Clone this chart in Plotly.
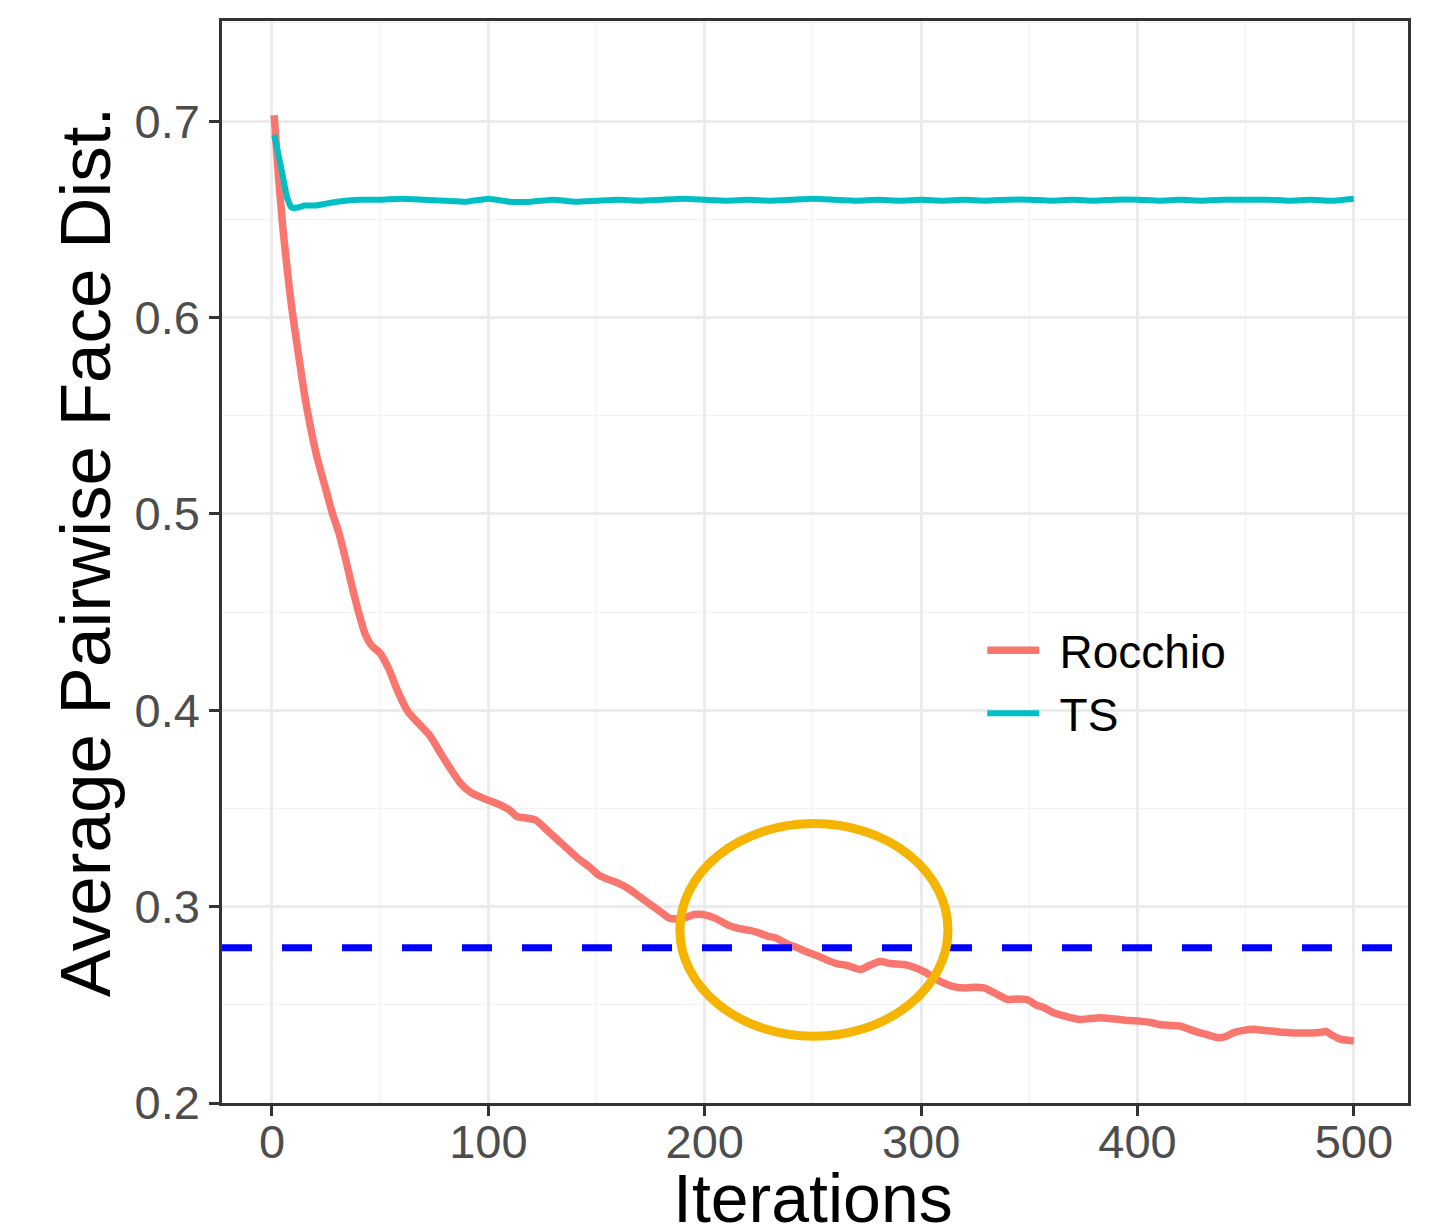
import plotly.graph_objects as go

# ---- data ----
rocchio_x = [1, 3, 5, 7, 9, 12, 15, 18, 21, 25, 28, 31, 34, 37, 40, 43, 46, 50, 54, 58,
             63, 68, 73, 78, 82, 87, 92, 98, 105, 110, 113, 118, 122, 128, 132, 136, 141,
             147, 151, 155, 160, 165, 170, 175, 180, 184, 190, 195, 199, 205, 210, 215,
             220, 224, 229, 233, 238, 243, 247, 252, 256, 261, 266, 272, 276, 281, 286,
             292, 297, 302, 307, 312, 316, 321, 325, 329, 334, 340, 344, 349, 353, 357,
             361, 364, 369, 373, 378, 383, 387, 392, 396, 401, 406, 410, 415, 420, 424,
             429, 433, 438, 441, 444, 449, 454, 458, 463, 467, 472, 477, 481, 485, 487,
             490, 494, 497, 500]
rocchio_y = [0.703, 0.672, 0.646, 0.625, 0.606, 0.583, 0.561, 0.543, 0.528, 0.512, 0.500,
             0.490, 0.477, 0.463, 0.450, 0.439, 0.433, 0.429, 0.421, 0.410, 0.399, 0.393,
             0.387, 0.378, 0.371, 0.363, 0.358, 0.355, 0.352, 0.349, 0.346, 0.345, 0.344,
             0.338, 0.334, 0.330, 0.325, 0.320, 0.316, 0.314, 0.312, 0.309, 0.305, 0.301,
             0.297, 0.294, 0.294, 0.296, 0.296, 0.294, 0.291, 0.289, 0.288, 0.287, 0.285,
             0.284, 0.281, 0.279, 0.277, 0.275, 0.273, 0.271, 0.270, 0.268, 0.270, 0.272,
             0.271, 0.2705, 0.269, 0.2665, 0.263, 0.2603, 0.259, 0.2586, 0.259, 0.2586,
             0.256, 0.2527, 0.253, 0.2527, 0.250, 0.2485, 0.246, 0.245, 0.2435, 0.2425,
             0.243, 0.2434, 0.243, 0.2425, 0.242, 0.2417, 0.241, 0.240, 0.2395, 0.2391,
             0.2375, 0.2357, 0.2345, 0.2332, 0.234, 0.2357, 0.237, 0.2375, 0.237, 0.2366,
             0.236, 0.2357, 0.2357, 0.2357, 0.236, 0.2366, 0.2345, 0.2324, 0.232, 0.2316]

ts_x = [1, 3, 5, 7, 9, 12, 15, 20, 25, 30, 40, 50, 60, 70, 80, 90, 100, 110, 120, 130,
        140, 150, 160, 170, 180, 190, 200, 210, 220, 230, 240, 250, 260, 270, 280, 290,
        300, 310, 320, 330, 340, 350, 360, 370, 380, 390, 400, 410, 420, 430, 440, 450,
        460, 470, 480, 490, 500]
ts_y = [0.693, 0.683, 0.672, 0.661, 0.656, 0.656, 0.657, 0.657, 0.658, 0.659, 0.660,
        0.660, 0.6605, 0.660, 0.6595, 0.659, 0.6605, 0.659, 0.659, 0.660, 0.659, 0.6595,
        0.660, 0.6595, 0.660, 0.6605, 0.660, 0.6595, 0.660, 0.6595, 0.660, 0.6605, 0.660,
        0.6595, 0.660, 0.6595, 0.660, 0.6595, 0.660, 0.6595, 0.660, 0.660, 0.6595, 0.660,
        0.6595, 0.660, 0.660, 0.6595, 0.660, 0.6595, 0.660, 0.660, 0.660, 0.6595, 0.660,
        0.6595, 0.6605]

baseline_y = 0.279
highlight_x = [188.5, 312.4]
highlight_y = [0.234, 0.3423]

x_ticks = [0, 100, 200, 300, 400, 500]
y_ticks = [0.2, 0.3, 0.4, 0.5, 0.6, 0.7]

FONT = "Liberation Sans, Arial, Helvetica, sans-serif"
RED = "#F8766D"
TEAL = "#00BFC4"
GAP = "\u2004"  # small spacing between legend key and label

fig = go.Figure()
fig.add_trace(go.Scatter(x=rocchio_x, y=rocchio_y, mode="lines", name=GAP + "Rocchio",
                         line=dict(color=RED, width=7.5, shape="spline", smoothing=0.6)))
fig.add_trace(go.Scatter(x=ts_x, y=ts_y, mode="lines", name=GAP + "TS",
                         line=dict(color=TEAL, width=6, shape="spline", smoothing=0.4)))

# white legend box hiding the grid
fig.add_shape(type="rect", xref="paper", yref="paper", x0=0.624, x1=0.875, y0=0.316, y1=0.482,
              fillcolor="white", line=dict(width=0), layer="between")

fig.add_shape(type="line", xref="paper", x0=0, x1=1, yref="y", y0=baseline_y, y1=baseline_y,
              line=dict(color="#0000FF", width=7, dash="30px,30px"))
fig.add_shape(type="circle", xref="x", yref="y",
              x0=highlight_x[0], x1=highlight_x[1], y0=highlight_y[0], y1=highlight_y[1],
              line=dict(color="#F4B400", width=9))

axis_common = dict(
    showline=True, mirror=True, linecolor="#333333", linewidth=2.5,
    ticks="outside", ticklen=10, tickwidth=2.5, tickcolor="#333333",
    tickfont=dict(family=FONT, size=47, color="#4D4D4D"),
    showgrid=True, gridcolor="#EBEBEB", gridwidth=2.5, zeroline=False,
)
fig.update_xaxes(range=[-23.1, 525], tickvals=x_ticks, ticklabelstandoff=-14,
                 minor=dict(dtick=50, tick0=50, showgrid=True, gridcolor="#F2F2F2", gridwidth=1.3),
                 **axis_common)
fig.update_yaxes(range=[0.2, 0.751], tickvals=y_ticks, tickformat=".1f",
                 minor=dict(dtick=0.1, tick0=0.25, showgrid=True, gridcolor="#F2F2F2", gridwidth=1.3),
                 **axis_common)

fig.add_annotation(text="Iterations", xref="paper", yref="paper", x=0.498, y=-0.0876,
                   showarrow=False, font=dict(family=FONT, size=68, color="black"),
                   xanchor="center", yanchor="middle")
fig.add_annotation(text="Average Pairwise Face Dist.", xref="paper", yref="paper",
                   x=-0.1155, y=0.509, textangle=-90, showarrow=False,
                   font=dict(family=FONT, size=71, color="black"),
                   xanchor="center", yanchor="middle")

fig.update_layout(
    width=1441, height=1231,
    margin=dict(l=214, r=41, t=10, b=136),
    plot_bgcolor="white", paper_bgcolor="white",
    showlegend=True,
    legend=dict(x=0.641, y=0.452, xanchor="left", yanchor="top",
                bgcolor="rgba(0,0,0,0)", borderwidth=0,
                font=dict(family=FONT, size=46, color="black"),
                tracegroupgap=0, itemwidth=52),
)

fig.write_html("out.html")
